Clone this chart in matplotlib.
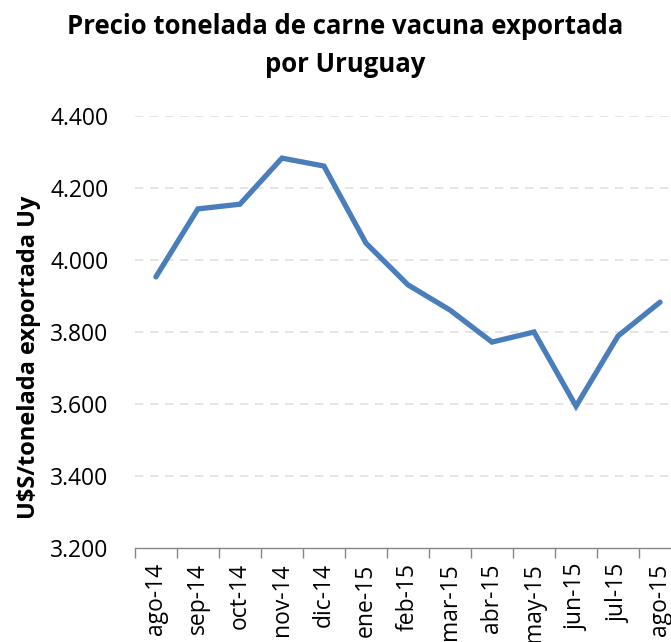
import matplotlib
matplotlib.use('Agg')
import matplotlib.pyplot as plt
from matplotlib.ticker import FuncFormatter, FixedLocator

plt.rcParams['font.family'] = ['Open Sans', 'DejaVu Sans']

meses = ['ago-14', 'sep-14', 'oct-14', 'nov-14', 'dic-14', 'ene-15', 'feb-15',
         'mar-15', 'abr-15', 'may-15', 'jun-15', 'jul-15', 'ago-15']
precio = [3953, 4142, 4155, 4283, 4261, 4047, 3931,
          3861, 3772, 3800, 3594, 3789, 3883]
y_ticks = [3200, 3400, 3600, 3800, 4000, 4200, 4400]

fig = plt.figure(figsize=(6.71, 6.42), dpi=100)
ax = fig.add_axes([0.201, 0.1464, 0.814, 0.6729])

x = list(range(len(meses)))
ax.plot(x, precio, color='#4A7EBB', linewidth=3.8, solid_joinstyle='miter',
        solid_capstyle='round', zorder=3)

ax.set_xlim(-0.5, len(meses) - 0.5)
ax.set_ylim(3200, 4400)
ax.set_yticks(y_ticks)
ax.yaxis.set_major_formatter(FuncFormatter(lambda v, p: f'{int(v):,}'.replace(',', '.')))
ax.tick_params(axis='y', length=0, labelsize=16.5, pad=19)

ax.set_xticks(x)
ax.set_xticklabels(meses, rotation=90, fontsize=16.5)
ax.tick_params(axis='x', which='major', length=0, pad=11)
ax.xaxis.set_minor_locator(FixedLocator([i - 0.5 for i in range(len(meses) + 1)]))
ax.tick_params(axis='x', which='minor', length=7, width=1, color='#868686', direction='out')

for v in y_ticks[1:]:
    ax.axhline(v, color='#E0E0E0', linewidth=1.2, linestyle=(0, (5, 4)), zorder=1)

for s in ['top', 'right', 'left']:
    ax.spines[s].set_visible(False)
ax.spines['bottom'].set_color('#868686')
ax.spines['bottom'].set_linewidth(1)

fig.text(0.514, 0.958, 'Precio tonelada de carne vacuna exportada', ha='center',
         va='center', fontsize=18.5, fontweight='bold')
fig.text(0.514, 0.899, 'por Uruguay', ha='center', va='center',
         fontsize=18.5, fontweight='bold')
fig.text(0.043, 0.443, 'U$S/tonelada exportada Uy', rotation=90, ha='center',
         va='center', fontsize=17, fontweight='bold')

fig.savefig('out.png', dpi=100)
